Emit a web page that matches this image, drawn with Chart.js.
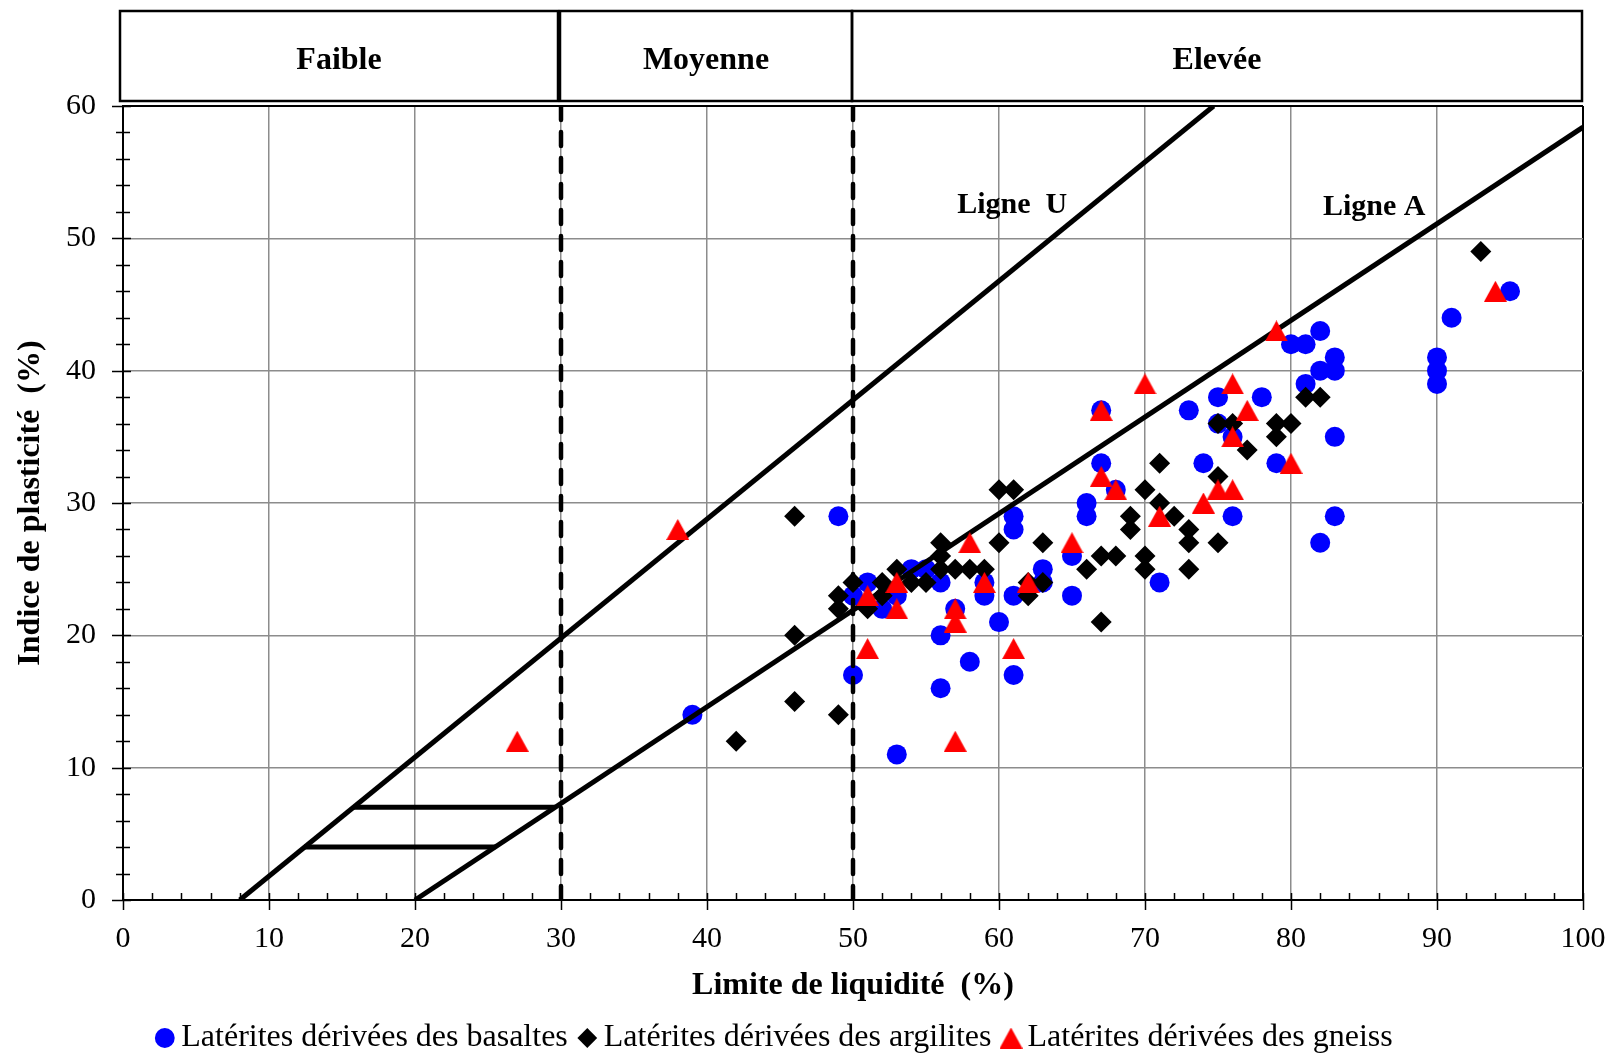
<!DOCTYPE html>
<html lang="fr">
<head>
<meta charset="utf-8">
<title>Diagramme de plasticité</title>
<script src="https://cdn.jsdelivr.net/npm/chart.js@4.4.0/dist/chart.umd.min.js"></script>
<style>
  html, body { margin: 0; padding: 0; background: #fff; }
  canvas { display: block; }
</style>
</head>
<body>
<canvas id="plasticite" width="1619" height="1056"></canvas>
<script>
// Limite de liquidité (LL, %) et indice de plasticité (IP, %) par famille
const basaltesLL = [39, 49, 50, 50, 51, 52, 53, 53, 54, 55, 56, 56, 56, 57, 58, 59, 59, 60, 61, 61, 61, 61,
  63, 63, 65, 65, 66, 66, 67, 67, 68, 71, 73, 74, 75, 75, 76, 76, 78, 79, 80, 81, 81, 82, 82, 82,
  83, 83, 83, 83, 90, 90, 90, 91, 95];
const basaltesIP = [14, 29, 17, 23, 24, 22, 23, 11, 25, 25, 24, 20, 16, 22, 18, 24, 23, 21, 29, 28, 23, 17,
  25, 24, 26, 23, 30, 29, 37, 33, 31, 24, 37, 33, 38, 36, 35, 29, 38, 33, 42, 42, 39, 43, 40, 27,
  41, 40, 35, 29, 41, 40, 39, 44, 46];

const argilitesLL = [42, 46, 46, 46, 49, 49, 49, 50, 51, 52, 52, 53, 54, 55, 56, 56, 56, 57, 58, 59, 60, 61,
  60, 62, 62, 63, 63, 66, 67, 67, 68, 69, 69, 70, 70, 70, 71, 71, 72, 73, 73, 73, 75, 75, 75, 76,
  77, 79, 79, 80, 81, 82, 93];
const argilitesIP = [12, 29, 20, 15, 23, 22, 14, 24, 22, 24, 23, 25, 24, 24, 27, 26, 25, 25, 25, 25, 31, 31,
  27, 23, 24, 24, 27, 25, 26, 21, 26, 29, 28, 31, 26, 25, 33, 30, 29, 28, 27, 25, 32, 27, 36, 36,
  34, 36, 35, 36, 38, 38, 49];

const gneissLL = [27, 38, 51, 51, 53, 53, 57, 57, 57, 58, 59, 61, 62, 65, 67, 67, 68, 70, 71, 74, 75, 76,
  76, 76, 77, 79, 80, 94];
const gneissIP = [12, 28, 19, 23, 24, 22, 22, 21, 12, 27, 24, 19, 24, 27, 37, 32, 31, 39, 29, 30, 31, 31,
  39, 35, 37, 43, 33, 46];

// Ligne U, ligne A, paliers et limites des domaines
const ligneU_LL = [8, 74.7];
const ligneU_IP = [0, 60];
const ligneA_LL = [20, 100];
const ligneA_IP = [0, 58.4];
const palier7_LL = [15.8, 29.6];
const palier7_IP = [7, 7];
const palier4_LL = [12.4, 25.5];
const palier4_IP = [4, 4];
const limiteMoyenne = 30;
const limiteElevee = 50;

const domaines = ['Faible', 'Moyenne', 'Elevée'];
const domaineBornes = [0, limiteMoyenne, limiteElevee, 100];

const pts = (xs, ys) => xs.map((x, i) => ({ x: x, y: ys[i] }));

function triangleMarker(w, h, color) {
  const c = document.createElement('canvas');
  c.width = w; c.height = h;
  const g = c.getContext('2d');
  g.fillStyle = color;
  g.beginPath();
  g.moveTo(w / 2, 0);
  g.lineTo(w, h);
  g.lineTo(0, h);
  g.closePath();
  g.fill();
  return c;
}

const SERIF = 'Liberation Serif';

const lineDs = (label, data, dash) => ({
  label: label,
  data: data,
  showLine: true,
  borderColor: '#000',
  backgroundColor: '#000',
  borderWidth: dash ? 4.5 : 5,
  borderDash: dash || [],
  borderCapStyle: dash ? 'round' : 'butt',
  pointRadius: 0,
  pointHoverRadius: 0,
  order: 2
});

const decor = {
  id: 'decor',
  afterLayout(chart) {
    const lg = chart.legend;
    lg.top += 8; lg.bottom += 8;
    lg.left -= 13; lg.right -= 13;
  },
  afterDatasetsDraw(chart) {
    const { ctx, scales: { x, y } } = chart;
    ctx.save();
    ctx.fillStyle = '#000';
    ctx.font = 'bold 30px "' + SERIF + '"';
    ctx.textAlign = 'center';
    ctx.textBaseline = 'middle';
    ctx.fillText('Ligne  U', x.getPixelForValue(60.9), y.getPixelForValue(52.5));
    ctx.fillText('Ligne A', x.getPixelForValue(85.7), y.getPixelForValue(52.35));
    ctx.restore();
  },
  afterDraw(chart) {
    const { ctx, chartArea: a, scales: { x, y } } = chart;
    ctx.save();
    // bandeau des domaines de plasticité
    const top = a.top - 95, bot = a.top - 5;
    ctx.strokeStyle = '#000';
    ctx.lineWidth = 2.5;
    ctx.fillStyle = '#000';
    ctx.font = 'bold 32px "' + SERIF + '"';
    ctx.textAlign = 'center';
    ctx.textBaseline = 'middle';
    for (let i = 0; i < domaines.length; i++) {
      const l = x.getPixelForValue(domaineBornes[i]) - (i === 0 ? 3 : 1);
      const r = x.getPixelForValue(domaineBornes[i + 1]) - (i === 0 ? 3 : 1);
      ctx.strokeRect(l, top, r - l, bot - top);
      ctx.fillText(domaines[i], (l + r) / 2, (top + bot) / 2 + 5);
    }
    // graduations
    ctx.lineWidth = 1.5;
    ctx.beginPath();
    for (let v = 0; v <= 100; v += 2) {
      const px = Math.round(x.getPixelForValue(v)) + 0.5;
      ctx.moveTo(px, a.bottom - 7);
      ctx.lineTo(px, a.bottom + (v % 10 === 0 ? 10 : 0));
    }
    for (let v = 0; v <= 60; v += 2) {
      const py = Math.round(y.getPixelForValue(v)) + 0.5;
      const major = v % 10 === 0;
      ctx.moveTo(a.left - (major ? 11 : 7), py);
      ctx.lineTo(a.left + (major ? 8 : 7), py);
    }
    ctx.stroke();
    ctx.restore();
  }
};

new Chart(document.getElementById('plasticite'), {
  type: 'scatter',
  data: {
    datasets: [
      {
        label: 'Latérites dérivées des basaltes',
        data: pts(basaltesLL, basaltesIP),
        pointStyle: 'circle',
        pointRadius: 10,
        pointHoverRadius: 10,
        borderWidth: 0,
        backgroundColor: '#0000FF',
        borderColor: '#0000FF',
        order: 3
      },
      {
        label: 'Latérites dérivées des argilites',
        data: pts(argilitesLL, argilitesIP),
        pointStyle: 'rectRot',
        pointRadius: 10.5,
        pointHoverRadius: 10.5,
        borderWidth: 0,
        backgroundColor: '#000000',
        borderColor: '#000000',
        order: 1
      },
      {
        label: 'Latérites dérivées des gneiss',
        data: pts(gneissLL, gneissIP),
        pointStyle: triangleMarker(23, 21, '#FF0000'),
        pointRadius: 10,
        pointHoverRadius: 10,
        borderWidth: 0,
        backgroundColor: '#FF0000',
        borderColor: '#FF0000',
        order: 0
      },
      lineDs('Ligne U', pts(ligneU_LL, ligneU_IP)),
      lineDs('Ligne A', pts(ligneA_LL, ligneA_IP)),
      lineDs('palier 7', pts(palier7_LL, palier7_IP)),
      lineDs('palier 4', pts(palier4_LL, palier4_IP)),
      lineDs('LL 30', pts([limiteMoyenne, limiteMoyenne], [0, 60]), [14, 12]),
      lineDs('LL 50', pts([limiteElevee, limiteElevee], [0, 60]), [14, 12])
    ]
  },
  options: {
    responsive: false,
    devicePixelRatio: 1,
    animation: false,
    layout: { padding: { top: 106, right: 36, left: 0, bottom: 0 } },
    scales: {
      x: {
        type: 'linear',
        min: 0,
        max: 100,
        afterFit: (s) => { s.height = 95; s.paddingRight = 0; s.paddingLeft = 0; },
        ticks: { stepSize: 10, padding: 21, color: '#000', font: { family: SERIF, size: 30 } },
        grid: {
          drawTicks: false,
          color: (c) => c.tick && c.tick.value === 100 ? '#000' : '#8c8c8c',
          lineWidth: (c) => c.tick && c.tick.value === 100 ? 2 : 1.5
        },
        border: { display: true, color: '#000', width: 2 },
        title: {
          display: true,
          text: 'Limite de liquidité  (%)',
          color: '#000',
          font: { family: SERIF, size: 32, weight: 'bold', lineHeight: 0.56 },
          padding: { top: 0, bottom: 0 }
        }
      },
      y: {
        type: 'linear',
        min: 0,
        max: 60,
        afterFit: (s) => { s.width = 123; },
        ticks: { stepSize: 10, padding: 27, color: '#000', font: { family: SERIF, size: 30 } },
        grid: {
          drawTicks: false,
          color: (c) => c.tick && c.tick.value === 60 ? '#000' : '#8c8c8c',
          lineWidth: (c) => c.tick && c.tick.value === 60 ? 2 : 1.5
        },
        border: { display: true, color: '#000', width: 2 },
        title: {
          display: true,
          text: 'Indice de plasticité  (%)',
          color: '#000',
          font: { family: SERIF, size: 32, weight: 'bold' },
          padding: { top: 12, bottom: 0 }
        }
      }
    },
    plugins: {
      tooltip: { enabled: false },
      legend: {
        display: true,
        position: 'bottom',
        labels: {
          usePointStyle: true,
          boxWidth: 1,
          boxHeight: 14,
          padding: 19,
          color: '#000',
          font: { family: SERIF, size: 32 },
          filter: (item) => item.datasetIndex < 3,
          sort: (a, b) => a.datasetIndex - b.datasetIndex
        }
      }
    }
  },
  plugins: [decor]
});
</script>
</body>
</html>
